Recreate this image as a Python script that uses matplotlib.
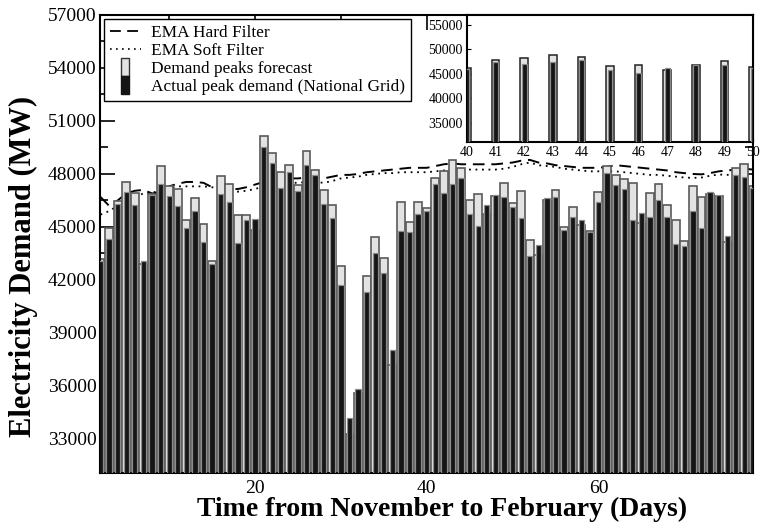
import matplotlib
matplotlib.use("Agg")
import matplotlib.pyplot as plt
from matplotlib.lines import Line2D
from matplotlib.ticker import MultipleLocator

plt.rcParams['font.family'] = ['Liberation Serif', 'DejaVu Serif']

days = list(range(2, 79))
forecast = [43200, 44950, 46480, 47560, 46900, 42920, 46850, 48430, 47310, 47160,
            45390, 46630, 45160, 43070, 47880, 47440, 45690, 45690, 44820, 50140,
            49200, 48140, 48520, 47370, 49290, 48220, 47090, 46240, 42780, 33260,
            35610, 42220, 44410, 43260, 37200, 46440, 45290, 46410, 46090, 47780,
            48180, 48770, 48350, 46520, 46880, 45760, 46760, 47500, 46350, 47050,
            44260, 43410, 46520, 47090, 45010, 46140, 45140, 44760, 46990, 48460,
            47950, 47730, 47500, 45220, 46900, 47430, 46260, 45370, 44200, 47310,
            46710, 46840, 46780, 44140, 48350, 48580, 47300]
actual = [43100, 44330, 46310, 46970, 46240, 43090, 46800, 47440, 46780, 46180,
          44930, 45920, 44140, 42920, 46860, 46440, 44100, 45370, 45430, 49520,
          48630, 47180, 48090, 47050, 48500, 47930, 46310, 45520, 41710, 34200,
          35840, 41310, 43540, 42370, 38030, 44770, 44710, 45730, 45930, 47430,
          46920, 47460, 47760, 45750, 45050, 46220, 46800, 46710, 46120, 45500,
          43350, 43970, 46650, 46690, 44820, 45560, 45410, 44740, 46390, 48070,
          47350, 47160, 45390, 45800, 45560, 46500, 45560, 44010, 43920, 45900,
          44920, 46970, 46820, 44480, 47970, 47840, 47200]
ema_hard = [46700, 46200, 46500, 46900, 47050, 47100, 46900, 46950, 47300, 47450,
            47550, 47550, 47500, 47250, 47250, 47150, 47150, 47250, 47400, 47550,
            47650, 47650, 47750, 47750, 47800, 47800, 47750, 47850, 47950, 47950,
            48000, 48100, 48150, 48200, 48250, 48300, 48350, 48350, 48350, 48450,
            48550, 48600, 48550, 48550, 48550, 48550, 48550, 48600, 48650, 48750,
            48800, 48650, 48600, 48500, 48450, 48400, 48350, 48350, 48350, 48400,
            48500, 48450, 48400, 48350, 48300, 48250, 48200, 48100, 48050, 48000,
            47980, 48050, 48150, 48200, 48250, 48300, 48250]
ema_soft = [45700, 45900, 46200, 46500, 46700, 46900, 46950, 47050, 47200, 47300,
            47300, 47300, 47300, 47250, 47150, 47050, 47000, 47050, 47150, 47300,
            47400, 47450, 47500, 47500, 47550, 47550, 47500, 47600, 47750, 47800,
            47850, 47950, 48000, 48050, 48050, 48100, 48100, 48100, 48100, 48150,
            48200, 48250, 48250, 48250, 48250, 48250, 48250, 48300, 48400, 48550,
            48650, 48500, 48450, 48400, 48300, 48250, 48200, 48150, 48150, 48150,
            48150, 48100, 48050, 48000, 47950, 47950, 47900, 47850, 47800, 47780,
            47800, 47900, 47970, 47950, 48000, 48050, 48000]

inset_days = days[38:49]
inset_fc = forecast[38:49]
inset_act = actual[38:49]

FC_FACE = '#e3e3e3'
FC_EDGE = '#5a5a5a'
ACT_FACE = '#151515'
ACT_EDGE = '#8c8c8c'

fig = plt.figure(figsize=(7.7, 5.28), dpi=100)
ax = fig.add_axes([0.1305, 0.105, 0.8474, 0.8666])

ax.plot(days, ema_hard, color='black', lw=1.4, ls=(0, (6, 3.5)), zorder=1)
ax.plot(days, ema_soft, color='black', lw=1.3, ls=(0, (1, 2.6)), zorder=1)
ax.bar(days, forecast, width=0.92, color=FC_FACE, edgecolor=FC_EDGE, lw=1.2, zorder=2)
ax.bar(days, actual, width=0.62, color=ACT_FACE, edgecolor=ACT_EDGE, lw=0.9, zorder=3)

ax.set_xlim(2, 78)
ax.set_ylim(31100, 57000)
ax.xaxis.set_major_locator(MultipleLocator(20))
ax.xaxis.set_minor_locator(MultipleLocator(10))
ax.yaxis.set_major_locator(MultipleLocator(3000))
ax.yaxis.set_minor_locator(MultipleLocator(1500))
ax.set_yticks(range(33000, 57001, 3000))
ax.tick_params(which='both', direction='in', top=True, right=True, width=1.2)
ax.tick_params(which='major', length=11, labelsize=14)
ax.tick_params(axis='y', which='major', pad=3)
ax.tick_params(axis='x', which='major', pad=5)
ax.tick_params(which='minor', length=6)
for s in ax.spines.values():
    s.set_linewidth(1.5)

ax.set_xlabel('Time from November to February (Days)', fontsize=20, fontweight='bold')
ax.xaxis.set_label_coords(0.523, -0.052)
ax.set_ylabel('Electricity Demand (MW)', fontsize=22, fontweight='bold')
ax.yaxis.set_label_coords(-0.095, 0.45)

rect = [(-0.45, -1), (0.45, -1), (0.45, 1), (-0.45, 1), (-0.45, -1)]
handles = [
    Line2D([], [], color='black', lw=1.3, ls=(0, (6, 3.5))),
    Line2D([], [], color='black', lw=1.2, ls=(0, (1, 2.6))),
    Line2D([], [], ls='none', marker=rect, markersize=13, mfc=FC_FACE, mec='#333333', mew=1),
    Line2D([], [], ls='none', marker=rect, markersize=13, mfc=ACT_FACE, mec=ACT_FACE, mew=1),
]
labels = ['EMA Hard Filter', 'EMA Soft Filter', 'Demand peaks forecast',
          'Actual peak demand (National Grid)']
leg = ax.legend(handles, labels, loc='upper left', bbox_to_anchor=(0.005, 0.992),
                borderaxespad=0, fontsize=12.4, labelspacing=0.12, handlelength=1.8,
                handletextpad=0.6, borderpad=0.35, fancybox=False, framealpha=1,
                edgecolor='black')
leg.get_frame().set_linewidth(1.0)
leg.set_zorder(5)

ins = fig.add_axes([0.6065, 0.7316, 0.3714, 0.24])
ins.bar(inset_days, inset_fc, width=0.27, color=FC_FACE, edgecolor='#222222', lw=1.1, zorder=2)
ins.bar(inset_days, inset_act, width=0.17, color=ACT_FACE, edgecolor=ACT_EDGE, lw=0.9, zorder=3)
ins.set_xlim(40, 50)
ins.set_ylim(31100, 57000)
ins.set_xticks(range(40, 51))
ins.set_yticks(range(35000, 55001, 5000))
ins.tick_params(direction='in', length=3, labelsize=10, pad=3)
for s in ins.spines.values():
    s.set_linewidth(1.5)

fig.savefig('out.png', dpi=100)
